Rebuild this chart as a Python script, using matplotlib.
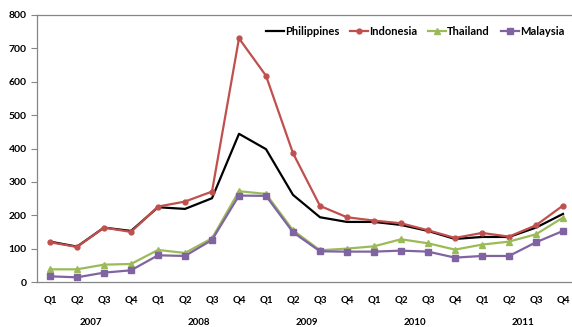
import matplotlib
matplotlib.use("Agg")
import matplotlib.pyplot as plt

quarters = ["Q1", "Q2", "Q3", "Q4"] * 5
years = ["2007", "2008", "2009", "2010", "2011"]

philippines = [121, 106, 163, 153, 224, 219, 251, 444, 398, 261, 194, 180,
               180, 171, 153, 129, 135, 135, 163, 204]
indonesia = [119, 105, 163, 150, 226, 241, 271, 730, 618, 386, 228, 194,
             184, 176, 155, 132, 147, 136, 170, 229]
thailand = [38, 38, 52, 54, 96, 87, 131, 272, 264, 155, 95, 100,
            107, 128, 116, 97, 112, 121, 143, 193]
malaysia = [17, 14, 28, 35, 80, 78, 126, 259, 258, 149, 92, 91,
            91, 94, 91, 73, 78, 78, 119, 153]

plt.rcParams['font.family'] = ['Lato', 'DejaVu Sans']
plt.rcParams['font.weight'] = 'bold'

fig = plt.figure(figsize=(5.72, 3.27), dpi=100)
ax = fig.add_axes([36.5 / 572, 1 - 282 / 327, 540 / 572, 267 / 327])

x = list(range(len(quarters)))
ax.plot(x, philippines, color="black", lw=1.6, label="Philippines")
ax.plot(x, indonesia, color="#C0504D", lw=1.6, marker="o", ms=3.5, label="Indonesia")
ax.plot(x, thailand, color="#9BBB59", lw=1.6, marker="^", ms=5, label="Thailand")
ax.plot(x, malaysia, color="#8064A2", lw=1.6, marker="s", ms=4, label="Malaysia")

ax.set_xlim(-0.5, len(quarters) - 0.5)
ax.set_ylim(0, 800)
ax.set_yticks(range(0, 801, 100))
ax.set_xticks(x)
ax.set_xticklabels(quarters, fontsize=7, fontweight="bold")
ax.tick_params(axis="x", length=0, pad=10)
ax.tick_params(axis="y", length=4, width=0.8, color="#868686", labelsize=7.5, pad=3)

for side in ["left", "bottom", "top"]:
    ax.spines[side].set_color("#868686")
    ax.spines[side].set_linewidth(0.9)
ax.spines["right"].set_visible(False)

for i, yr in enumerate(years):
    ax.text(i * 4 + 1.5, -0.153, yr, transform=ax.get_xaxis_transform(),
            ha="center", va="center", fontsize=7, fontweight="bold")

ax.legend(loc="upper right", bbox_to_anchor=(0.99, 0.985), ncol=4, frameon=False,
          fontsize=8, handlelength=1.6, handletextpad=0.1, columnspacing=1.0,
          borderaxespad=0.2, prop={"weight": "bold", "size": 8})

fig.savefig("out.png", dpi=100)
